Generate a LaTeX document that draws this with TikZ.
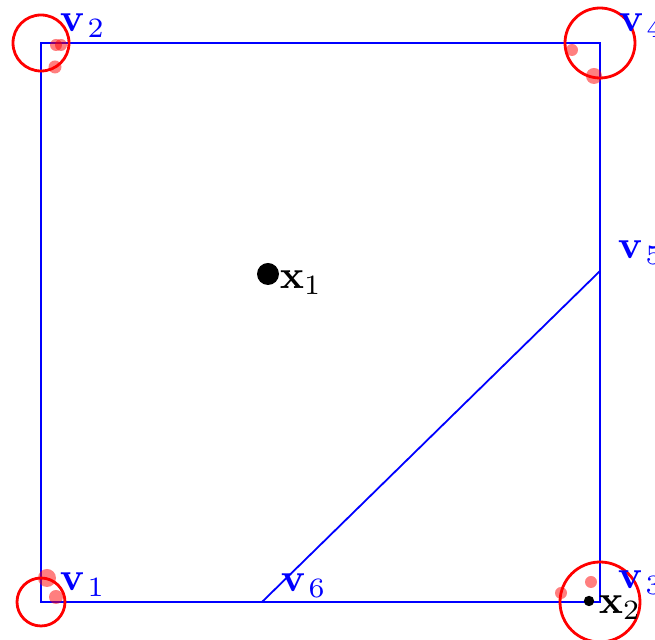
\documentclass[tikz,border=0pt]{standalone}
\usepackage{amsmath}
\begin{document}
\begin{tikzpicture}[x=0.25pt,y=-0.25pt,
  edgeline/.style={blue, line width=0.45pt},
  vlabel/.style={blue, anchor=base west, inner sep=0pt},
  xlabel/.style={black, anchor=base west, inner sep=0pt},
  ring/.style={red, line width=0.7pt},
  blob/.style={red, fill opacity=0.5},
  pt/.style={circle, fill=black, inner sep=0pt}]
\useasboundingbox (0,0) rectangle (655,640);
\coordinate (v1) at (41,602);
\coordinate (v2) at (41,43);
\coordinate (v3) at (600,602);
\coordinate (v4) at (600,43);
\coordinate (v5) at (600,271);
\coordinate (v6) at (262,602);
\draw[edgeline] (v1) -- (v3) -- (v4) -- (v2) -- cycle;
\draw[edgeline] (v5) -- (v6);
% pink samples
\fill[blob] (56,45) circle[radius=6];
\fill[blob] (61,45) circle[radius=6];
\fill[blob] (55,67) circle[radius=6.5];
\fill[blob] (572,50) circle[radius=6];
\fill[blob] (594,76) circle[radius=8];
\fill[blob] (47,578) circle[radius=9];
\fill[blob] (56,597) circle[radius=7];
\fill[blob] (591,582) circle[radius=6];
\fill[blob] (561,593) circle[radius=6];
% rings
\draw[ring] (v2) circle[radius=28];
\draw[ring] (v4) circle[radius=35];
\draw[ring] (v1) circle[radius=24];
\draw[ring] (v3) circle[radius=40];
% labels
\node[vlabel] (l1) at ([shift={(18,-11)}]v1) {$\mathbf{v}_{\!\;1}$};
\node[vlabel] (l2) at ([shift={(18,-11)}]v2) {$\mathbf{v}_{\!\;2}$};
\node[vlabel] (l3) at ([shift={(17,-13)}]v3) {$\mathbf{v}_{\!\;3}$};
\node[vlabel] (l4) at ([shift={(18,-11)}]v4) {$\mathbf{v}_{\!\;4}$};
\node[vlabel] (l5) at ([shift={(17,-12)}]v5) {$\mathbf{v}_{\!\;5}$};
\node[vlabel] (l6) at ([shift={(18,-10)}]v6) {$\mathbf{v}_{\!\;6}$};
% points
\node[pt, minimum size=5.5pt] (x1) at (268,274) {};
\node[xlabel] (lx1) at (279,289) {$\mathbf{x}_1$};
\node[pt, minimum size=2.6pt] (x2) at (589,601) {};
\node[xlabel] (lx2) at (598,614) {$\mathbf{x}_2$};
\end{tikzpicture}
\end{document}
